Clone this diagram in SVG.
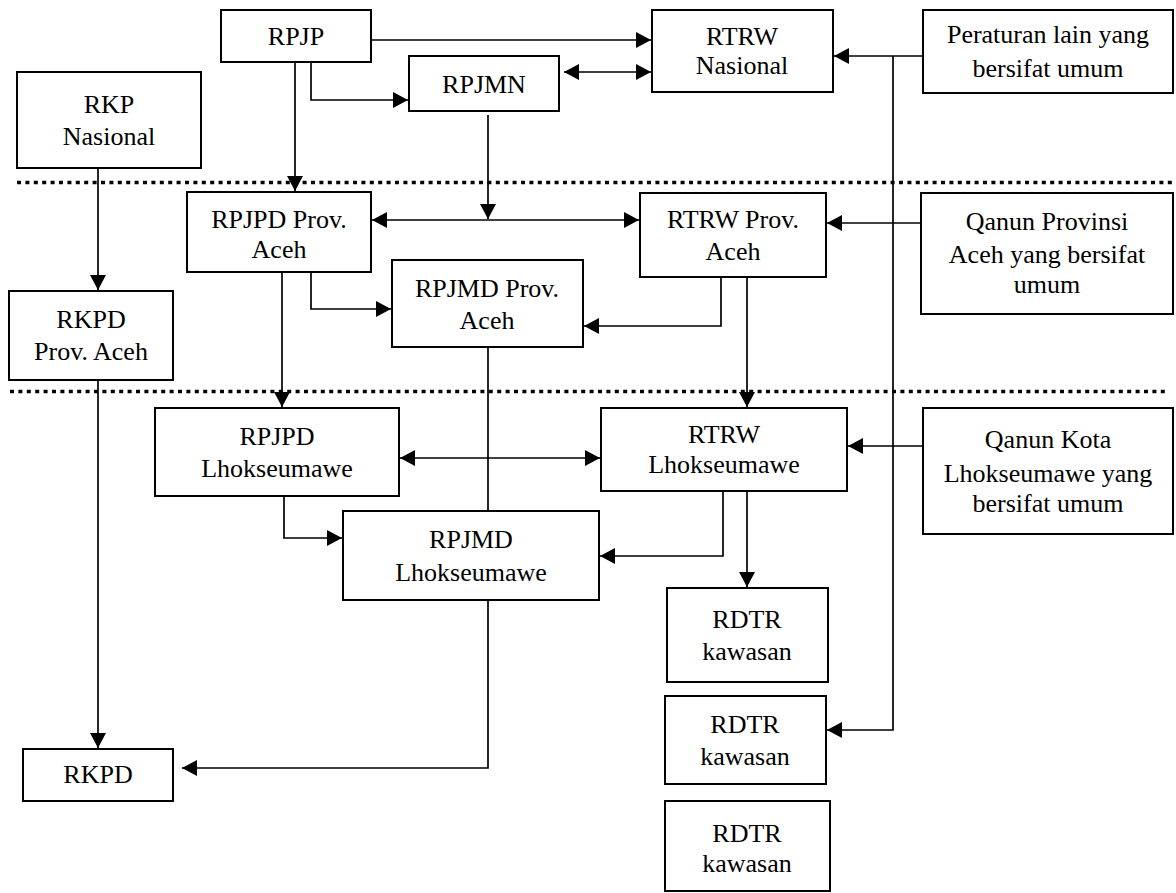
<svg xmlns="http://www.w3.org/2000/svg" width="1176" height="893" viewBox="0 0 1176 893">
<defs>
<style>
.box{fill:#fff;stroke:#000;stroke-width:2}
.t{font-family:"Liberation Serif","Times New Roman",serif;font-size:26px;fill:#000;text-anchor:middle}
.c{fill:none;stroke:#000;stroke-width:1.7}
.a{marker-end:url(#ah)}
.d{marker-start:url(#ah);marker-end:url(#ah)}
.dot{fill:none;stroke:#000;stroke-width:3.5;stroke-dasharray:4 4.4}
</style>
<marker id="ah" markerUnits="userSpaceOnUse" markerWidth="16" markerHeight="16" refX="15" refY="8" orient="auto-start-reverse">
<path d="M0,0 L15,8 L0,16 z" fill="#000"/>
</marker>
</defs>
<rect width="1176" height="893" fill="#fff"/>
<g id="separators">
<line class="dot" x1="17" y1="182.5" x2="1174" y2="182.5"/>
<line class="dot" x1="10" y1="391.5" x2="1167" y2="391.5"/>
</g>
<g id="connectors">
<path class="c a" d="M371,40 H651"/>
<path class="c a" d="M311,62 V100 H408"/>
<path class="c d" d="M564,72 H651"/>
<path class="c a" d="M923,56 H834"/>
<path class="c a" d="M893,56 V730 H827"/>
<path class="c a" d="M98,168 V290"/>
<path class="c a" d="M295,62 V191"/>
<path class="c a" d="M488,115 V219"/>
<path class="c d" d="M372,220 H639"/>
<path class="c a" d="M921,223 H827"/>
<path class="c a" d="M311,272 V309 H391"/>
<path class="c a" d="M721,277 V326 H584"/>
<path class="c a" d="M747,277 V407"/>
<path class="c a" d="M282,272 V407"/>
<path class="c a" d="M98,380 V748"/>
<path class="c" d="M488,347 V511"/>
<path class="c d" d="M400,458 H600"/>
<path class="c a" d="M923,446 H848"/>
<path class="c a" d="M284,496 V538 H342"/>
<path class="c a" d="M723,491 V556 H600"/>
<path class="c a" d="M747,473 V587"/>
<path class="c a" d="M488,600 V768 H182"/>
</g>
<g id="rpjp"><rect class="box" x="221" y="10" width="150" height="52"/><text class="t" x="296" y="45">RPJP</text></g>
<g id="rtrw-nasional"><rect class="box" x="652" y="10" width="181" height="82"/><text class="t" x="742" y="45">RTRW</text><text class="t" x="742" y="74">Nasional</text></g>
<g id="rpjmn"><rect class="box" x="409" y="56" width="150" height="55"/><text class="t" x="484" y="93">RPJMN</text></g>
<g id="peraturan"><rect class="box" x="923" y="10" width="250" height="83"/><text class="t" x="1048" y="43">Peraturan lain yang</text><text class="t" x="1048" y="77">bersifat umum</text></g>
<g id="rkp-nasional"><rect class="box" x="17" y="72" width="184" height="96"/><text class="t" x="109" y="113">RKP</text><text class="t" x="109" y="145">Nasional</text></g>
<g id="rpjpd-prov"><rect class="box" x="187" y="192" width="184" height="80"/><text class="t" x="279" y="228">RPJPD Prov.</text><text class="t" x="279" y="258">Aceh</text></g>
<g id="rtrw-prov"><rect class="box" x="640" y="193" width="186" height="84"/><text class="t" x="733" y="228">RTRW Prov.</text><text class="t" x="733" y="260">Aceh</text></g>
<g id="qanun-prov"><rect class="box" x="921" y="193" width="252" height="121"/><text class="t" x="1047" y="230">Qanun Provinsi</text><text class="t" x="1047" y="263">Aceh yang bersifat</text><text class="t" x="1047" y="293">umum</text></g>
<g id="rkpd-prov"><rect class="box" x="9" y="291" width="164" height="89"/><text class="t" x="91" y="328">RKPD</text><text class="t" x="91" y="360">Prov. Aceh</text></g>
<g id="rpjmd-prov"><rect class="box" x="392" y="260" width="191" height="87"/><text class="t" x="487" y="297">RPJMD Prov.</text><text class="t" x="487" y="329">Aceh</text></g>
<g id="rpjpd-lhok"><rect class="box" x="155" y="408" width="244" height="88"/><text class="t" x="277" y="445">RPJPD</text><text class="t" x="277" y="477">Lhokseumawe</text></g>
<g id="rtrw-lhok"><rect class="box" x="601" y="408" width="246" height="83"/><text class="t" x="724" y="443">RTRW</text><text class="t" x="724" y="473">Lhokseumawe</text></g>
<g id="qanun-kota"><rect class="box" x="923" y="408" width="250" height="126"/><text class="t" x="1048" y="448">Qanun Kota</text><text class="t" x="1048" y="482">Lhokseumawe yang</text><text class="t" x="1048" y="512">bersifat umum</text></g>
<g id="rpjmd-lhok"><rect class="box" x="343" y="511" width="256" height="89"/><text class="t" x="471" y="548">RPJMD</text><text class="t" x="471" y="581">Lhokseumawe</text></g>
<g id="rdtr-1"><rect class="box" x="667" y="588" width="161" height="94"/><text class="t" x="747" y="628">RDTR</text><text class="t" x="747" y="660">kawasan</text></g>
<g id="rdtr-2"><rect class="box" x="665" y="696" width="161" height="88"/><text class="t" x="745" y="733">RDTR</text><text class="t" x="745" y="765">kawasan</text></g>
<g id="rdtr-3"><rect class="box" x="665" y="801" width="165" height="90"/><text class="t" x="747" y="842">RDTR</text><text class="t" x="747" y="872">kawasan</text></g>
<g id="rkpd"><rect class="box" x="23" y="749" width="150" height="52"/><text class="t" x="98" y="783">RKPD</text></g>
</svg>
